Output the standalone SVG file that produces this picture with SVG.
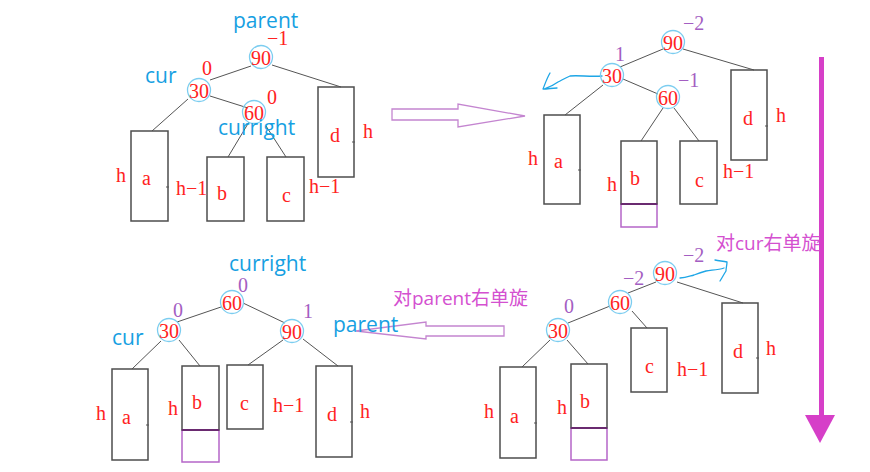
<svg xmlns="http://www.w3.org/2000/svg" width="870" height="472" viewBox="0 0 870 472">
<style>
.bg{fill:#fff}
.edge{stroke:#555;stroke-width:1;fill:none}
.box{fill:none;stroke:#4d4d4d;stroke-width:1.5}
.pbox{fill:none;stroke:#b565c8;stroke-width:1.5}
.pline{stroke:#6a2a70;stroke-width:2}
.circ{fill:none;stroke:#7ccdf0;stroke-width:1.3}
.num{font-family:"Liberation Serif",serif;font-size:20px;fill:#f22;text-anchor:middle}
.lbl{font-family:"Liberation Serif",serif;font-size:20px;fill:#f22}
.pur{font-family:"Liberation Serif",serif;font-size:20px;fill:#a45ec2}
.blue{font-family:"Open Sans","Liberation Sans",sans-serif;font-size:21px;fill:#16a0e2}
.cn{font-family:"Open Sans","Noto Sans CJK SC",sans-serif;font-size:19px;fill:#d450d0}
.hollow{fill:#fff;stroke:#c485d0;stroke-width:1.3}
.bluearr{fill:none;stroke:#1ea6e6;stroke-width:1.3;stroke-linecap:round;stroke-linejoin:round}
.tick{stroke:#555;stroke-width:1}
</style>
<rect class="bg" x="0" y="0" width="870" height="472"/>

<g id="connectors">
  <!-- Q1 -->
  <line class="edge" x1="251" y1="66" x2="210" y2="80"/>
  <line class="edge" x1="272" y1="65" x2="341" y2="87"/>
  <line class="edge" x1="188" y1="99" x2="152" y2="131"/>
  <line class="edge" x1="210" y1="96" x2="248" y2="108"/>
  <line class="edge" x1="249" y1="122" x2="228" y2="157"/>
  <line class="edge" x1="266" y1="126" x2="286" y2="157"/>
  <!-- Q2 -->
  <line class="edge" x1="663" y1="49" x2="620" y2="67"/>
  <line class="edge" x1="683" y1="49" x2="754" y2="70"/>
  <line class="edge" x1="603" y1="85" x2="565" y2="115"/>
  <line class="edge" x1="623" y1="79" x2="658" y2="94"/>
  <line class="edge" x1="663" y1="108" x2="641" y2="141"/>
  <line class="edge" x1="674" y1="108" x2="699" y2="141"/>
  <!-- Q3 -->
  <line class="edge" x1="221" y1="307" x2="177" y2="322"/>
  <line class="edge" x1="243" y1="303" x2="285" y2="323"/>
  <line class="edge" x1="161" y1="341" x2="132" y2="369"/>
  <line class="edge" x1="179" y1="340" x2="200" y2="366"/>
  <line class="edge" x1="283" y1="340" x2="248" y2="365"/>
  <line class="edge" x1="303" y1="339" x2="338" y2="366"/>
  <!-- Q4 -->
  <line class="edge" x1="656" y1="282" x2="628" y2="293"/>
  <line class="edge" x1="677" y1="282" x2="743" y2="303"/>
  <line class="edge" x1="610" y1="306" x2="568" y2="323"/>
  <line class="edge" x1="632" y1="311" x2="647" y2="328"/>
  <line class="edge" x1="550" y1="340" x2="522" y2="367"/>
  <line class="edge" x1="567" y1="340" x2="588" y2="364"/>

  <!-- hollow arrows -->
  <polygon class="hollow" points="392,109 458,109 458,104 525,116 458,127 458,120 392,120"/>
  <polygon class="hollow" points="504,326 426,326 426,322 356,331 426,339 426,336 504,336"/>

  <!-- big magenta arrow -->
  <rect x="819" y="57" width="5" height="360" fill="#d63fc8"/>
  <polygon points="805,415 835,415 820,443" fill="#d63fc8"/>

  <!-- blue hand-drawn arrows -->
  <path class="bluearr" d="M602,76 C590,77 578,75 570,76 C565,78 562,80 558,82 C554,85 550,87 544,89 M550,73 C547,78 545,84 543,89 C548,89 552,88 557,88"/>
  <path class="bluearr" d="M680,278 C686,278 690,276 694,275 C699,273 702,272 706,271 C712,270 718,270 724,268 M715,260 C719,261 723,261 727,262 C727,265 726,268 726,271 C724,274 722,278 720,281"/>
</g>

<!-- Q1 nodes -->
<g id="q1-n90"><circle class="circ" cx="261" cy="57" r="11.5"/><text class="num" x="261" y="65">90</text></g>
<g id="q1-n30"><circle class="circ" cx="199" cy="90" r="11.5"/><text class="num" x="199" y="98">30</text></g>
<g id="q1-n60"><circle class="circ" cx="254" cy="112" r="11.5"/><text class="num" x="254" y="120">60</text></g>
<g id="q1-a"><rect class="box" x="131" y="131" width="37" height="90"/><line class="tick" x1="166" y1="187" x2="169" y2="187"/><text class="lbl" x="142" y="185">a</text></g>
<g id="q1-b"><rect class="box" x="207" y="157" width="37" height="64"/><text class="lbl" x="217" y="200">b</text></g>
<g id="q1-c"><rect class="box" x="267" y="157" width="37" height="64"/><text class="lbl" x="282" y="202">c</text></g>
<g id="q1-d"><rect class="box" x="318" y="87" width="36" height="90"/><line class="tick" x1="352" y1="142" x2="355" y2="142"/><text class="lbl" x="330" y="142">d</text></g>
<g id="q1-labels">
  <text class="blue" x="233" y="28">parent</text>
  <text class="lbl" x="267" y="45">−1</text>
  <text class="lbl" x="202" y="75">0</text>
  <text class="blue" x="145" y="83">cur</text>
  <text class="lbl" x="267" y="104">0</text>
  <text class="blue" x="218" y="135">curright</text>
  <text class="lbl" x="116" y="182">h</text>
  <text class="lbl" x="176" y="195">h−1</text>
  <text class="lbl" x="309" y="193">h−1</text>
  <text class="lbl" x="363" y="138">h</text>
</g>

<!-- Q2 nodes -->
<g id="q2-n90"><circle class="circ" cx="673" cy="42" r="11.5"/><text class="num" x="673" y="50">90</text></g>
<g id="q2-n30"><circle class="circ" cx="612" cy="75" r="11.5"/><text class="num" x="612" y="83">30</text></g>
<g id="q2-n60"><circle class="circ" cx="668" cy="97" r="11.5"/><text class="num" x="668" y="105">60</text></g>
<g id="q2-a"><rect class="box" x="544" y="115" width="36" height="89"/><line class="tick" x1="578" y1="170" x2="581" y2="170"/><text class="lbl" x="554" y="168">a</text></g>
<g id="q2-b"><rect class="pbox" x="621" y="204" width="36" height="23"/><rect class="box" x="621" y="141" width="36" height="63"/><line class="pline" x1="621" y1="204" x2="657" y2="204"/><text class="lbl" x="630" y="185">b</text></g>
<g id="q2-c"><rect class="box" x="680" y="141" width="37" height="63"/><text class="lbl" x="695" y="187">c</text></g>
<g id="q2-d"><rect class="box" x="731" y="70" width="36" height="90"/><line class="tick" x1="765" y1="126" x2="768" y2="126"/><text class="lbl" x="743" y="125">d</text></g>
<g id="q2-labels">
  <text class="pur" x="683" y="30">−2</text>
  <text class="pur" x="615" y="61">1</text>
  <text class="pur" x="678" y="87">−1</text>
  <text class="lbl" x="528" y="165">h</text>
  <text class="lbl" x="607" y="191">h</text>
  <text class="lbl" x="723" y="178">h−1</text>
  <text class="lbl" x="776" y="122">h</text>
</g>

<!-- Q3 nodes -->
<g id="q3-n60"><circle class="circ" cx="232" cy="302" r="11.5"/><text class="num" x="232" y="310">60</text></g>
<g id="q3-n30"><circle class="circ" cx="169" cy="330" r="11.5"/><text class="num" x="169" y="338">30</text></g>
<g id="q3-n90"><circle class="circ" cx="292" cy="331" r="11.5"/><text class="num" x="292" y="339">90</text></g>
<g id="q3-a"><rect class="box" x="112" y="369" width="36" height="91"/><line class="tick" x1="146" y1="425" x2="149" y2="425"/><text class="lbl" x="122" y="424">a</text></g>
<g id="q3-b"><rect class="pbox" x="182" y="430" width="37" height="32"/><rect class="box" x="182" y="366" width="37" height="64"/><line class="pline" x1="182" y1="430" x2="219" y2="430"/><text class="lbl" x="192" y="409">b</text></g>
<g id="q3-c"><rect class="box" x="227" y="365" width="36" height="64"/><text class="lbl" x="240" y="410">c</text></g>
<g id="q3-d"><rect class="box" x="316" y="366" width="36" height="91"/><line class="tick" x1="350" y1="422" x2="353" y2="422"/><text class="lbl" x="327" y="421">d</text></g>
<g id="q3-labels">
  <text class="blue" x="229" y="271">curright</text>
  <text class="pur" x="238" y="292">0</text>
  <text class="pur" x="173" y="317">0</text>
  <text class="blue" x="112" y="345">cur</text>
  <text class="pur" x="303" y="318">1</text>
  <text class="lbl" x="96" y="420">h</text>
  <text class="lbl" x="168" y="415">h</text>
  <text class="lbl" x="273" y="412">h−1</text>
  <text class="lbl" x="360" y="418">h</text>
</g>

<!-- Q4 nodes -->
<g id="q4-n90"><circle class="circ" cx="665" cy="273" r="11.5"/><text class="num" x="665" y="281">90</text></g>
<g id="q4-n60"><circle class="circ" cx="620" cy="302" r="11.5"/><text class="num" x="620" y="310">60</text></g>
<g id="q4-n30"><circle class="circ" cx="558" cy="330" r="11.5"/><text class="num" x="558" y="338">30</text></g>
<g id="q4-a"><rect class="box" x="500" y="367" width="36" height="91"/><line class="tick" x1="534" y1="423" x2="537" y2="423"/><text class="lbl" x="510" y="423">a</text></g>
<g id="q4-b"><rect class="pbox" x="571" y="428" width="36" height="32"/><rect class="box" x="571" y="364" width="36" height="64"/><line class="pline" x1="571" y1="428" x2="607" y2="428"/><text class="lbl" x="580" y="408">b</text></g>
<g id="q4-c"><rect class="box" x="631" y="328" width="36" height="64"/><text class="lbl" x="645" y="373">c</text></g>
<g id="q4-d"><rect class="box" x="722" y="303" width="36" height="90"/><line class="tick" x1="756" y1="358" x2="759" y2="358"/><text class="lbl" x="733" y="358">d</text></g>
<g id="q4-labels">
  <text class="cn" x="716" y="250">对cur右单旋</text>
  <text class="cn" x="393" y="305">对parent右单旋</text>
  <text class="blue" x="333" y="332">parent</text>
  <text class="pur" x="683" y="262">−2</text>
  <text class="pur" x="623" y="285">−2</text>
  <text class="pur" x="564" y="313">0</text>
  <text class="lbl" x="484" y="418">h</text>
  <text class="lbl" x="557" y="414">h</text>
  <text class="lbl" x="677" y="376">h−1</text>
  <text class="lbl" x="766" y="355">h</text>
</g>
</svg>
